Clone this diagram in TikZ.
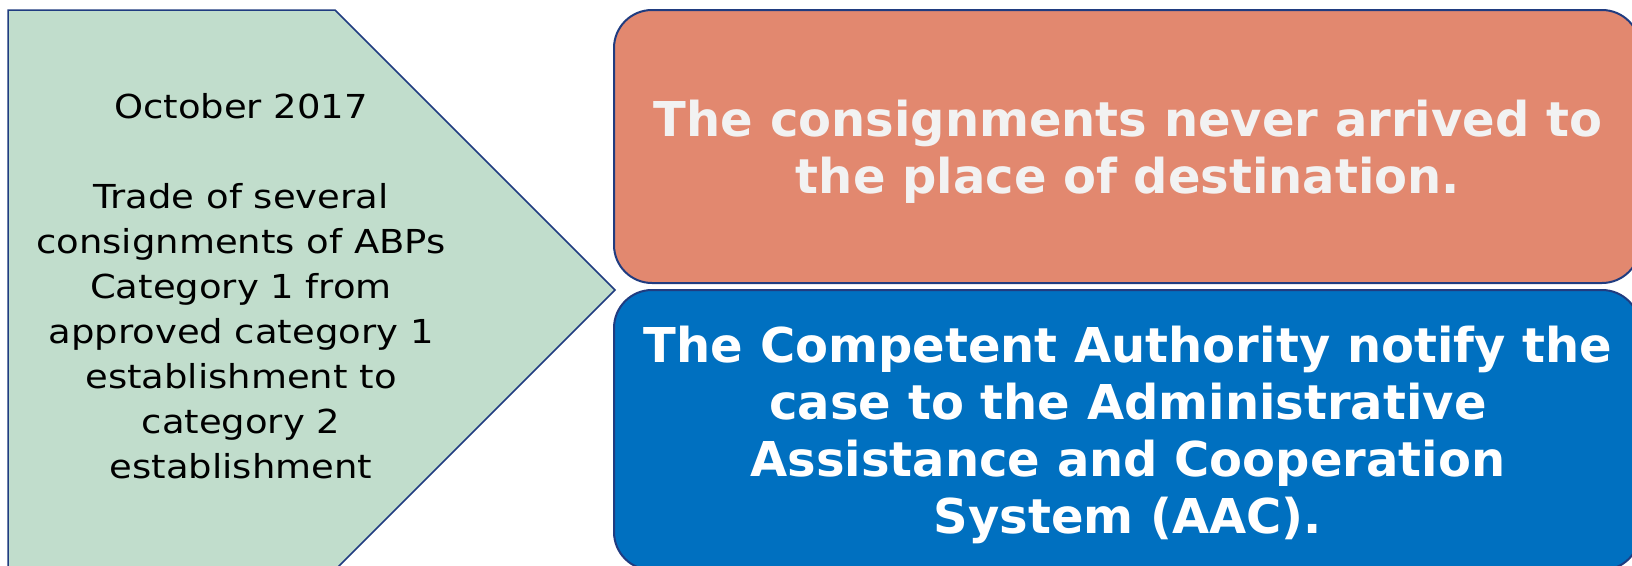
\documentclass[tikz,border=0pt]{standalone}
\usepackage{fontspec}
\setmainfont{DejaVu Sans}
\newfontfamily\leftfamily{DejaVu Sans}[FakeStretch=1.12]
\definecolor{greenfill}{HTML}{C1DDCC}
\definecolor{edgeblue}{HTML}{203C80}
\definecolor{orangefill}{HTML}{E2886F}
\definecolor{bluefill}{HTML}{0070C0}
\definecolor{lighttext}{HTML}{F2F2F2}
\tikzset{
  roundbox/.style={rectangle, rounded corners=38pt, draw=edgeblue, line width=2pt,
    minimum width=1026pt, inner sep=0pt, align=center, font=\bfseries\fontsize{48}{57}\selectfont},
  lefttext/.style={align=center, inner sep=0pt, font=\leftfamily\fontsize{33}{45}\selectfont, text=black}
}
\begin{document}
\begin{tikzpicture}[x=1pt,y=-1pt]
\useasboundingbox (0,0) rectangle (1632,565);
\clip (0,0) rectangle (1632,565);
\draw[fill=greenfill, draw=edgeblue, line width=1.5pt]
  (8,10) -- (335,10) -- (615,290) -- (335,570) -- (8,570) -- cycle;
\node[lefttext] (left) at (241,286) {October 2017\\[45pt]Trade of several\\consignments of ABPs\\Category 1 from\\approved category 1\\establishment to\\category 2\\establishment};
\node[roundbox, fill=orangefill, text=lighttext, minimum height=273pt] (top) at (1127,146.5) {};
\node[roundbox, fill=bluefill, text=white, minimum height=280pt] (bottom) at (1127,430) {};
\node[align=center, inner sep=0pt, text=lighttext, font=\bfseries\fontsize{48}{57}\selectfont] (toptext) at (1128,152)
  {The consignments never arrived to\\the place of destination.};
\node[align=center, inner sep=0pt, text=white, font=\bfseries\fontsize{48}{57}\selectfont] (bottomtext) at (1128,435)
  {The Competent Authority notify the\\case to the Administrative\\Assistance and Cooperation\\System (AAC).};
\end{tikzpicture}
\end{document}
